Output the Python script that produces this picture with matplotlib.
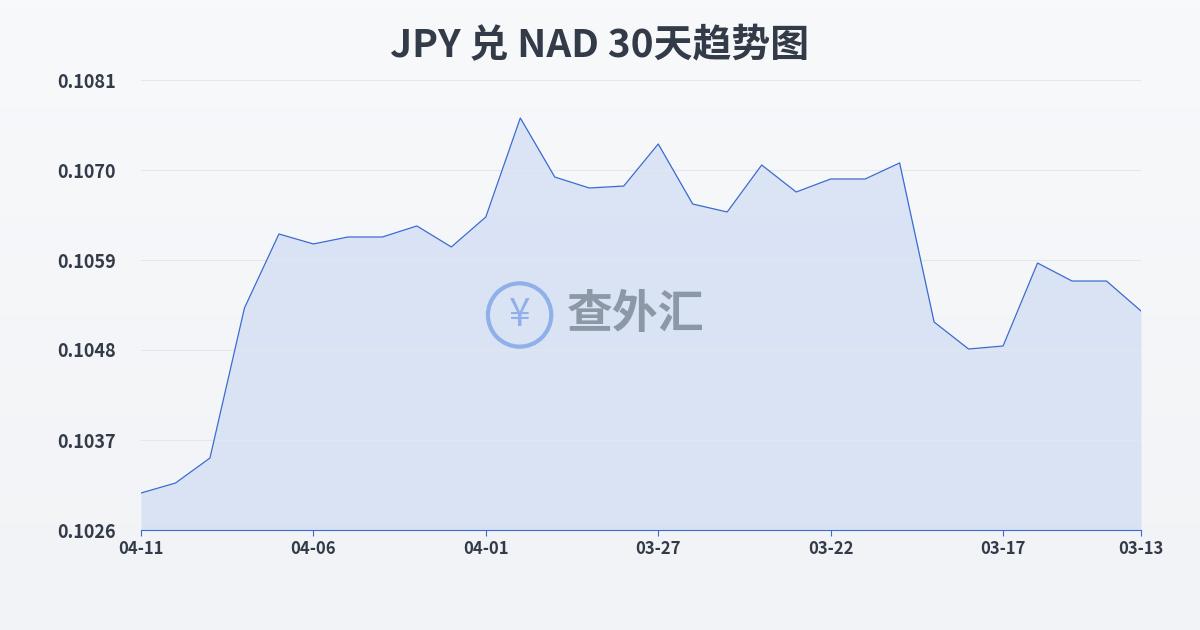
import numpy as np
import matplotlib.pyplot as plt
from datetime import date, timedelta

plt.rcParams['font.family'] = ['Noto Sans CJK SC', 'DejaVu Sans']

# 04-11 back to 03-13, newest first (as on the chart)
dates = [(date(2025, 4, 11) - timedelta(days=i)).strftime('%m-%d') for i in range(30)]
rates = [0.103052, 0.103174, 0.103480, 0.105313, 0.106218, 0.106096, 0.106181,
         0.106181, 0.106316, 0.106059, 0.106426, 0.107636, 0.106914, 0.106780,
         0.106804, 0.107318, 0.106584, 0.106487, 0.107061, 0.106731, 0.106890,
         0.106890, 0.107086, 0.105142, 0.104812, 0.104849, 0.105863, 0.105643,
         0.105643, 0.105277]
yticks = [0.1026, 0.1037, 0.1048, 0.1059, 0.1070, 0.1081]

fig = plt.figure(figsize=(12, 6.3), dpi=100)
bg = fig.add_axes([0, 0, 1, 1], zorder=-10)
grad = np.linspace(1, 0, 100).reshape(-1, 1)
bg.imshow(grad, aspect='auto', cmap=plt.matplotlib.colors.LinearSegmentedColormap.from_list(
    'g', ['#f1f3f6', '#f8f9fb']), extent=[0, 1, 0, 1])
bg.axis('off')

ax = fig.add_axes([141/1200, 100/630, 1000/1200, 450/630])
ax.patch.set_alpha(0)
x = np.arange(len(rates))
ax.fill_between(x, rates, yticks[0], color='#c5d5f2', alpha=0.55, lw=0)
ax.plot(x, rates, color='#3a6bd0', lw=0.9)
ax.set_xlim(0, len(rates) - 1)
ax.set_ylim(yticks[0], yticks[-1])
ax.set_yticks(yticks)
ax.set_yticklabels([f'{v:.4f}' for v in yticks])
ax.set_xticks(x[::5].tolist() + [29])
ax.set_xticklabels([dates[i] for i in range(0, 30, 5)] + [dates[29]])
ax.grid(axis='y', color='#e3e6ea', lw=0.8)
for s in ['top', 'right', 'left']:
    ax.spines[s].set_visible(False)
ax.spines['bottom'].set_color('#3a6bd0')
ax.tick_params(axis='y', length=0, labelsize=13, labelcolor='#333b48', pad=18)
ax.tick_params(axis='x', length=4, color='#3a6bd0', labelsize=12, labelcolor='#333b48')
for t in ax.get_yticklabels() + ax.get_xticklabels():
    t.set_fontweight('bold')

fig.text(0.5, 0.928, 'JPY 兑 NAD 30天趋势图', ha='center', va='center',
         fontsize=28, fontweight='bold', color='#333b48')
fig.text(0.433, 0.50, '¥', ha='center', va='center', fontsize=28, color='#8fb0e8',
         bbox=dict(boxstyle='circle', fc='none', ec='#8fb0e8', lw=3))
fig.text(0.53, 0.50, '查外汇', ha='center', va='center', fontsize=33,
         fontweight='bold', color='#7a8594', alpha=0.8)

fig.savefig('out.png')
